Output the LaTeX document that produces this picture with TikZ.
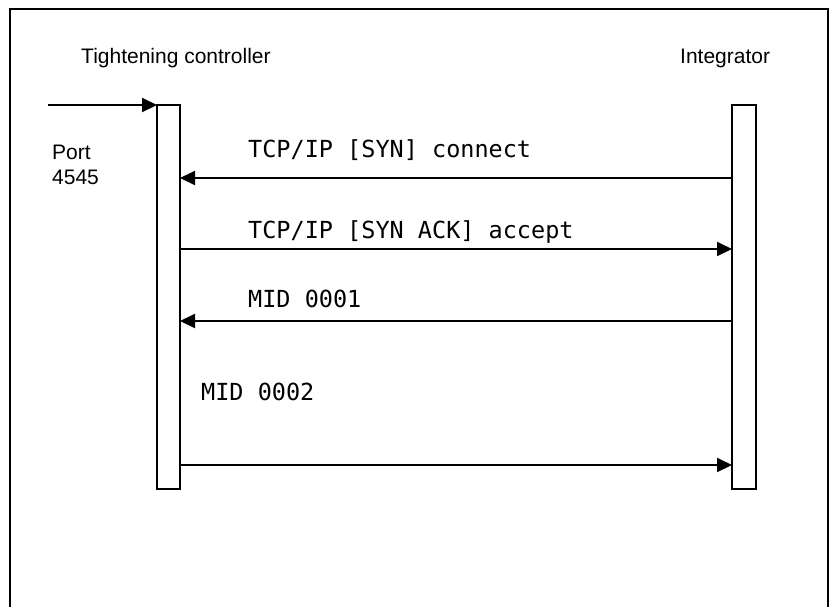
\documentclass[tikz,border=0pt]{standalone}
\usepackage{fontspec}
\setmainfont{Liberation Sans}
\newfontfamily\monof{DejaVu Sans Mono}
\usetikzlibrary{arrows.meta}
\begin{document}
\begin{tikzpicture}[x=1pt,y=-1pt,
  lifebar/.style={draw,line width=1.5pt,fill=white,minimum width=23pt,minimum height=384pt,inner sep=0pt,outer sep=0pt},
  msg/.style={line width=2pt,-{Triangle[length=15pt,width=14pt]}},
  sanslbl/.style={font=\fontsize{21}{25}\selectfont,anchor=base west,inner sep=0pt},
  monolbl/.style={font=\monof\fontsize{23.5}{28}\selectfont,anchor=base west,inner sep=0pt}]
\useasboundingbox (0,0) rectangle (833,606);
\draw[line width=2pt] (10,620) -- (10,8.5) -- (828,8.5) -- (828,620);
\node[lifebar] (lbar) at (168.5,297) {};
\node[lifebar,minimum width=24pt] (rbar) at (744,297) {};
\node[sanslbl] (tc) at (81,63) {Tightening controller};
\node[sanslbl] (integ) at (680,63) {Integrator};
\node[sanslbl] (port) at (52,159) {Port};
\node[sanslbl] (portn) at (52,184) {4545};
\coordinate (inc) at (48,105);
\draw[msg] (inc |- lbar.north west) -- (lbar.north west);
\coordinate (m1) at (0,178);
\coordinate (m2) at (0,249);
\coordinate (m3) at (0,321);
\coordinate (m4) at (0,465);
\draw[msg] (rbar.west |- m1) -- (lbar.east |- m1);
\draw[msg] (lbar.east |- m2) -- (rbar.west |- m2);
\draw[msg] (rbar.west |- m3) -- (lbar.east |- m3);
\draw[msg] (lbar.east |- m4) -- (rbar.west |- m4);
\node[monolbl] (l1) at (248,157) {TCP/IP [SYN] connect};
\node[monolbl] (l2) at (248,238) {TCP/IP [SYN ACK] accept};
\node[monolbl] (l3) at (248,307) {MID 0001};
\node[monolbl] (l4) at (201,400) {MID 0002};
\end{tikzpicture}
\end{document}
